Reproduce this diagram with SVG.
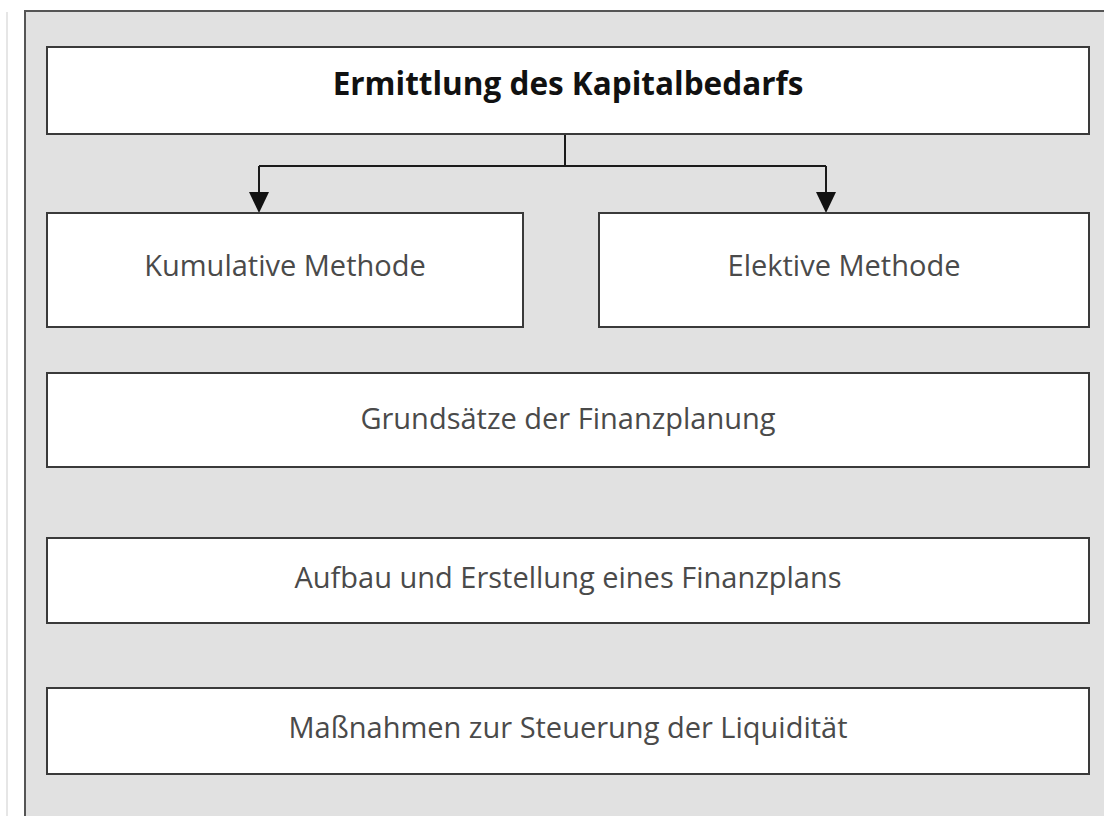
<svg xmlns="http://www.w3.org/2000/svg" width="1104" height="816" viewBox="0 0 1104 816">
  <style>
    .box { fill: #ffffff; stroke: #3a3a3a; stroke-width: 2; }
    .lbl { font-family: "Open Sans", "Noto Sans", sans-serif; font-size: 29px; fill: #4a4a4a; text-anchor: middle; }
    .title { font-family: "Open Sans", "Noto Sans", sans-serif; font-size: 31.5px; font-weight: bold; fill: #111111; text-anchor: middle; }
    .conn { fill: none; stroke: #1a1a1a; stroke-width: 2; }
    .head { fill: #111111; }
  </style>
  <rect x="0" y="0" width="1104" height="816" fill="#ffffff"/>
  <line x1="7" y1="12" x2="7" y2="816" stroke="#e6e6e6" stroke-width="2"/>
  <rect id="panel" x="25" y="11" width="1090" height="820" fill="#e1e1e1" stroke="#555555" stroke-width="2"/>

  <g id="connectors">
    <path class="conn" d="M565,134 L565,166"/>
    <path class="conn" d="M259,166 L826,166"/>
    <path class="conn" d="M259,166 L259,196"/>
    <path class="conn" d="M826,166 L826,196"/>
    <path class="head" d="M249,192 L269,192 L259,213 Z"/>
    <path class="head" d="M816,192 L836,192 L826,213 Z"/>
  </g>

  <g id="node-kapitalbedarf">
    <rect class="box" x="47" y="47" width="1042" height="87"/>
    <text class="title" x="568" y="95">Ermittlung des Kapitalbedarfs</text>
  </g>
  <g id="node-kumulativ">
    <rect class="box" x="47" y="213" width="476" height="114"/>
    <text class="lbl" x="285" y="276">Kumulative Methode</text>
  </g>
  <g id="node-elektiv">
    <rect class="box" x="599" y="213" width="490" height="114"/>
    <text class="lbl" x="844" y="276">Elektive Methode</text>
  </g>
  <g id="node-grundsaetze">
    <rect class="box" x="47" y="373" width="1042" height="94"/>
    <text class="lbl" x="568" y="429">Grundsätze der Finanzplanung</text>
  </g>
  <g id="node-aufbau">
    <rect class="box" x="47" y="538" width="1042" height="85"/>
    <text class="lbl" x="568" y="588">Aufbau und Erstellung eines Finanzplans</text>
  </g>
  <g id="node-massnahmen">
    <rect class="box" x="47" y="688" width="1042" height="86"/>
    <text class="lbl" x="568" y="738">Maßnahmen zur Steuerung der Liquidität</text>
  </g>
</svg>
